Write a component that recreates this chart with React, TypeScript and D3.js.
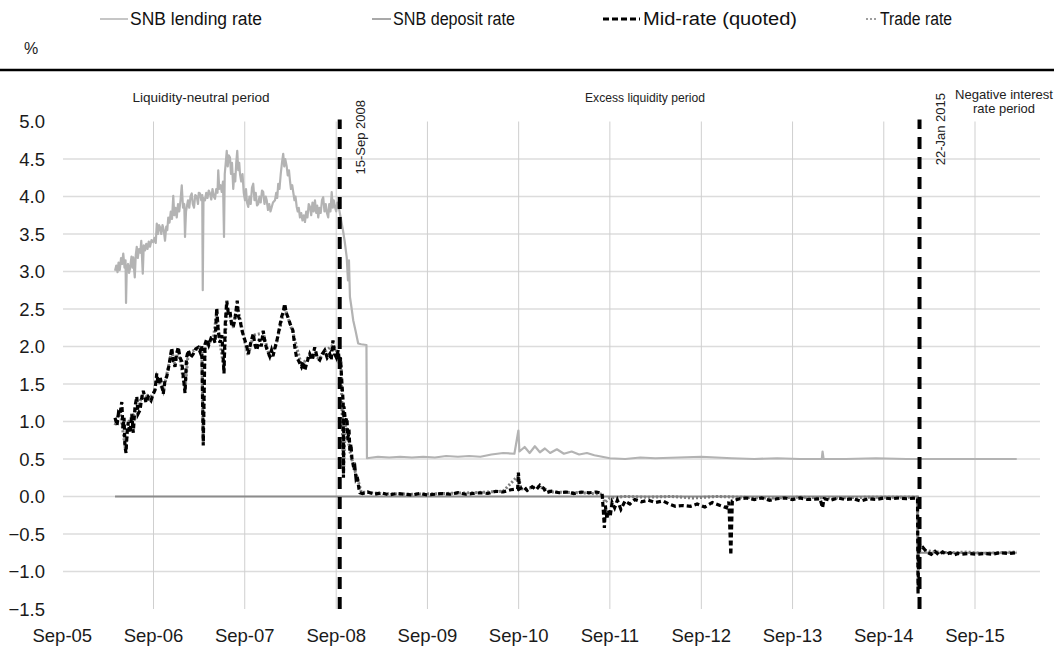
import React, { useRef, useEffect } from "react"
import * as d3 from "d3"

// y ticks and x tick years (Sep of each year)
const yTicks = [-1.5, -1.0, -0.5, 0.0, 0.5, 1.0, 1.5, 2.0, 2.5, 3.0, 3.5, 4.0, 4.5, 5.0]
const xTickYears = [2005, 2006, 2007, 2008, 2009, 2010, 2011, 2012, 2013, 2014, 2015]

const legendItems = ["SNB lending rate", "SNB deposit rate", "Mid-rate (quoted)", "Trade rate"]
const periodLabels = ["Liquidity-neutral period", "Excess liquidity period"]
const eventDates = ["2008-09-15", "2015-01-22"]
const eventLabels = ["15-Sep 2008", "22-Jan 2015"]

const lendingRate: [string, number][] = [
  ["2006-03-31", 3.01], ["2006-04-05", 3.08], ["2006-04-10", 2.99], ["2006-04-14", 3.12], ["2006-04-19", 3.02],
  ["2006-04-24", 3.18], ["2006-04-28", 3.1], ["2006-05-03", 3.24], ["2006-05-08", 3.05], ["2006-05-12", 3.15],
  ["2006-05-14", 2.58], ["2006-05-17", 3.05], ["2006-05-22", 3.1], ["2006-05-26", 2.98], ["2006-05-30", 3.04],
  ["2006-06-05", 3.2], ["2006-06-09", 3.05], ["2006-06-12", 3.19], ["2006-06-16", 3.0], ["2006-06-18", 2.92],
  ["2006-06-22", 3.22], ["2006-06-26", 3.33], ["2006-06-30", 3.18], ["2006-07-05", 3.3], ["2006-07-10", 3.25],
  ["2006-07-14", 3.41], ["2006-07-20", 2.97], ["2006-07-24", 3.35], ["2006-07-29", 3.28], ["2006-08-03", 3.37],
  ["2006-08-08", 3.3], ["2006-08-13", 3.4], ["2006-08-18", 3.33], ["2006-08-24", 3.42], ["2006-08-31", 3.39],
  ["2006-09-05", 3.45], ["2006-09-10", 3.38], ["2006-09-14", 3.64], ["2006-09-19", 3.5], ["2006-09-23", 3.62],
  ["2006-09-27", 3.59], ["2006-10-02", 3.5], ["2006-10-07", 3.62], ["2006-10-12", 3.55], ["2006-10-17", 3.41],
  ["2006-10-22", 3.6], ["2006-10-26", 3.55], ["2006-10-30", 3.72], ["2006-11-04", 3.65], ["2006-11-09", 3.8],
  ["2006-11-14", 3.7], ["2006-11-19", 4.01], ["2006-11-23", 3.75], ["2006-11-28", 3.85], ["2006-12-03", 3.72],
  ["2006-12-08", 3.9], ["2006-12-13", 3.8], ["2006-12-18", 3.95], ["2006-12-23", 4.15], ["2006-12-28", 3.85],
  ["2007-01-02", 3.9], ["2007-01-05", 3.46], ["2007-01-09", 3.8], ["2007-01-12", 3.86], ["2007-01-17", 3.95],
  ["2007-01-22", 3.85], ["2007-01-27", 4.0], ["2007-02-01", 4.04], ["2007-02-05", 3.9], ["2007-02-10", 3.85],
  ["2007-02-15", 4.02], ["2007-02-21", 4.0], ["2007-02-26", 3.9], ["2007-03-01", 4.05], ["2007-03-06", 4.04],
  ["2007-03-11", 3.95], ["2007-03-15", 4.02], ["2007-03-17", 2.75], ["2007-03-20", 3.98], ["2007-03-26", 3.95],
  ["2007-03-31", 4.05], ["2007-04-05", 3.98], ["2007-04-10", 4.08], ["2007-04-15", 4.04], ["2007-04-20", 3.96],
  ["2007-04-25", 4.1], ["2007-04-30", 4.0], ["2007-05-05", 3.97], ["2007-05-10", 4.1], ["2007-05-15", 4.05],
  ["2007-05-18", 4.35], ["2007-05-22", 4.1], ["2007-05-27", 4.15], ["2007-06-01", 4.06], ["2007-06-06", 4.2],
  ["2007-06-10", 3.46], ["2007-06-13", 4.3], ["2007-06-17", 4.45], ["2007-06-21", 4.61], ["2007-06-25", 4.4],
  ["2007-06-29", 4.55], ["2007-07-04", 4.52], ["2007-07-08", 4.3], ["2007-07-12", 4.45], ["2007-07-17", 4.1],
  ["2007-07-21", 4.3], ["2007-07-25", 4.2], ["2007-07-29", 4.45], ["2007-08-02", 4.61], ["2007-08-06", 4.35],
  ["2007-08-10", 4.45], ["2007-08-13", 4.3], ["2007-08-18", 4.2], ["2007-08-23", 4.3], ["2007-08-28", 4.05],
  ["2007-09-02", 3.95], ["2007-09-06", 4.1], ["2007-09-10", 3.92], ["2007-09-15", 3.86], ["2007-09-20", 4.0],
  ["2007-09-25", 3.9], ["2007-09-30", 4.12], ["2007-10-05", 4.17], ["2007-10-10", 3.95], ["2007-10-15", 4.05],
  ["2007-10-20", 3.88], ["2007-10-25", 3.9], ["2007-10-30", 4.0], ["2007-11-04", 3.92], ["2007-11-09", 4.08],
  ["2007-11-14", 4.06], ["2007-11-19", 3.9], ["2007-11-24", 4.0], ["2007-11-28", 3.95], ["2007-12-03", 3.82],
  ["2007-12-08", 3.9], ["2007-12-13", 3.8], ["2007-12-18", 3.86], ["2007-12-23", 3.92], ["2007-12-31", 3.95],
  ["2008-01-05", 4.05], ["2008-01-09", 3.98], ["2008-01-13", 4.17], ["2008-01-18", 4.1], ["2008-01-23", 4.3],
  ["2008-01-28", 4.45], ["2008-02-02", 4.57], ["2008-02-06", 4.4], ["2008-02-10", 4.5], ["2008-02-16", 4.4],
  ["2008-02-20", 4.28], ["2008-02-25", 4.35], ["2008-02-29", 4.21], ["2008-03-04", 4.1], ["2008-03-09", 4.15],
  ["2008-03-13", 4.06], ["2008-03-18", 3.95], ["2008-03-22", 4.0], ["2008-03-27", 3.86], ["2008-03-31", 3.8],
  ["2008-04-04", 3.85], ["2008-04-09", 3.72], ["2008-04-14", 3.78], ["2008-04-19", 3.68], ["2008-04-24", 3.75],
  ["2008-04-29", 3.66], ["2008-05-04", 3.8], ["2008-05-09", 3.72], ["2008-05-14", 3.9], ["2008-05-19", 3.86],
  ["2008-05-24", 3.75], ["2008-05-29", 3.92], ["2008-06-03", 3.8], ["2008-06-08", 3.95], ["2008-06-13", 3.78],
  ["2008-06-17", 3.88], ["2008-06-21", 3.72], ["2008-06-26", 3.85], ["2008-07-01", 3.78], ["2008-07-06", 3.95],
  ["2008-07-11", 3.99], ["2008-07-16", 3.8], ["2008-07-21", 3.9], ["2008-07-26", 3.78], ["2008-07-31", 3.72],
  ["2008-08-04", 3.9], ["2008-08-09", 3.8], ["2008-08-14", 4.06], ["2008-08-18", 3.85], ["2008-08-22", 3.95],
  ["2008-08-27", 3.86], ["2008-09-01", 3.8], ["2008-09-05", 3.92], ["2008-09-09", 3.9], ["2008-09-16", 3.77],
  ["2008-09-28", 3.55], ["2008-10-05", 3.4], ["2008-10-13", 3.19], ["2008-10-18", 2.88], ["2008-10-22", 3.15],
  ["2008-10-26", 2.66], ["2008-11-02", 2.5], ["2008-11-08", 2.35], ["2008-11-18", 2.2], ["2008-11-28", 2.04],
  ["2008-12-10", 2.03], ["2008-12-31", 2.02], ["2009-01-02", 0.51], ["2009-02-15", 0.53], ["2009-04-01", 0.52],
  ["2009-05-15", 0.53], ["2009-07-01", 0.52], ["2009-08-15", 0.53], ["2009-10-01", 0.52], ["2009-11-15", 0.54],
  ["2010-01-01", 0.53], ["2010-02-15", 0.54], ["2010-04-01", 0.53], ["2010-05-15", 0.56], ["2010-07-01", 0.58],
  ["2010-08-15", 0.57], ["2010-08-31", 0.88], ["2010-09-04", 0.6], ["2010-09-25", 0.66], ["2010-10-15", 0.58],
  ["2010-11-05", 0.67], ["2010-11-25", 0.59], ["2010-12-15", 0.64], ["2011-01-05", 0.58], ["2011-02-01", 0.63],
  ["2011-03-01", 0.57], ["2011-04-01", 0.6], ["2011-05-01", 0.56], ["2011-06-01", 0.58], ["2011-07-01", 0.55],
  ["2011-08-01", 0.53], ["2011-09-01", 0.51], ["2011-11-01", 0.5], ["2012-01-01", 0.52], ["2012-03-01", 0.51],
  ["2012-06-01", 0.52], ["2012-09-01", 0.53], ["2012-11-01", 0.52], ["2013-01-01", 0.51], ["2013-04-01", 0.5],
  ["2013-07-01", 0.51], ["2013-10-01", 0.5], ["2013-12-27", 0.5], ["2013-12-30", 0.6], ["2014-01-03", 0.5],
  ["2014-04-01", 0.5], ["2014-08-01", 0.51], ["2014-12-01", 0.5], ["2015-03-01", 0.5], ["2015-08-01", 0.5],
  ["2016-02-15", 0.5],
]

const depositRate: [string, number][] = [
  ["2006-03-31", 0.0], ["2015-01-14", 0.0], ["2015-01-15", -0.75], ["2016-02-15", -0.75],
]

const midRate: [string, number][] = [
  ["2006-03-31", 1.05], ["2006-04-08", 0.95], ["2006-04-14", 1.12], ["2006-04-20", 1.1], ["2006-04-27", 1.26],
  ["2006-05-02", 0.9], ["2006-05-06", 1.05], ["2006-05-10", 0.66], ["2006-05-14", 0.58], ["2006-05-19", 0.9],
  ["2006-05-23", 0.99], ["2006-05-30", 0.85], ["2006-06-06", 1.1], ["2006-06-12", 0.85], ["2006-06-19", 1.2],
  ["2006-06-26", 1.33], ["2006-07-01", 1.1], ["2006-07-09", 1.15], ["2006-07-15", 1.3], ["2006-07-22", 1.41],
  ["2006-08-02", 1.25], ["2006-08-11", 1.33], ["2006-08-22", 1.28], ["2006-08-31", 1.37], ["2006-09-07", 1.42],
  ["2006-09-14", 1.64], ["2006-09-20", 1.5], ["2006-09-27", 1.6], ["2006-10-03", 1.5], ["2006-10-10", 1.37],
  ["2006-10-17", 1.55], ["2006-10-24", 1.6], ["2006-11-02", 1.75], ["2006-11-13", 1.98], ["2006-11-19", 1.8],
  ["2006-11-26", 1.73], ["2006-12-02", 1.9], ["2006-12-09", 1.99], ["2006-12-16", 1.85], ["2006-12-23", 1.8],
  ["2007-01-05", 1.38], ["2007-01-11", 1.85], ["2007-01-18", 1.95], ["2007-01-27", 1.85], ["2007-02-07", 1.9],
  ["2007-02-17", 1.97], ["2007-02-27", 1.99], ["2007-03-06", 1.93], ["2007-03-13", 2.01], ["2007-03-19", 0.68],
  ["2007-03-26", 2.03], ["2007-04-02", 2.1], ["2007-04-10", 2.02], ["2007-04-20", 2.12], ["2007-04-28", 2.13],
  ["2007-05-05", 2.05], ["2007-05-12", 2.51], ["2007-05-18", 2.2], ["2007-05-25", 2.05], ["2007-06-02", 2.15],
  ["2007-06-10", 1.64], ["2007-06-15", 2.3], ["2007-06-21", 2.61], ["2007-06-27", 2.45], ["2007-07-04", 2.47],
  ["2007-07-10", 2.3], ["2007-07-17", 2.26], ["2007-07-25", 2.4], ["2007-08-02", 2.61], ["2007-08-07", 2.4],
  ["2007-08-13", 2.35], ["2007-08-22", 2.2], ["2007-09-02", 2.08], ["2007-09-09", 2.0], ["2007-09-15", 1.9],
  ["2007-09-25", 2.05], ["2007-10-05", 2.17], ["2007-10-12", 2.02], ["2007-10-19", 1.95], ["2007-10-30", 2.1],
  ["2007-11-06", 2.0], ["2007-11-14", 2.21], ["2007-11-21", 2.05], ["2007-11-28", 1.97], ["2007-12-04", 1.92],
  ["2007-12-10", 1.87], ["2007-12-17", 1.95], ["2007-12-23", 1.87], ["2007-12-30", 1.97], ["2008-01-06", 2.05],
  ["2008-01-15", 2.2], ["2008-01-26", 2.39], ["2008-02-01", 2.45], ["2008-02-08", 2.57], ["2008-02-14", 2.45],
  ["2008-02-21", 2.39], ["2008-03-01", 2.3], ["2008-03-12", 2.21], ["2008-03-19", 2.0], ["2008-03-26", 1.86],
  ["2008-04-05", 1.8], ["2008-04-15", 1.73], ["2008-04-22", 1.8], ["2008-04-28", 1.68], ["2008-05-08", 1.8],
  ["2008-05-18", 1.9], ["2008-05-28", 1.82], ["2008-06-07", 1.99], ["2008-06-17", 1.85], ["2008-06-27", 1.82],
  ["2008-07-07", 1.9], ["2008-07-17", 1.95], ["2008-07-27", 1.85], ["2008-08-06", 1.9], ["2008-08-12", 1.82],
  ["2008-08-19", 2.08], ["2008-08-26", 1.9], ["2008-09-02", 1.85], ["2008-09-09", 1.95], ["2008-09-15", 1.75],
  ["2008-09-18", 1.85], ["2008-09-24", 1.5], ["2008-09-29", 1.25], ["2008-09-30", 0.25], ["2008-10-02", 1.2],
  ["2008-10-08", 1.0], ["2008-10-14", 1.05], ["2008-10-18", 0.75], ["2008-10-22", 0.9], ["2008-10-26", 0.6],
  ["2008-10-30", 0.7], ["2008-11-03", 0.5], ["2008-11-07", 0.45], ["2008-11-11", 0.35], ["2008-11-15", 0.38],
  ["2008-11-19", 0.25], ["2008-11-23", 0.28], ["2008-11-27", 0.2], ["2008-12-01", 0.1], ["2008-12-05", 0.05],
  ["2008-12-15", 0.04], ["2009-01-05", 0.06], ["2009-02-01", 0.03], ["2009-03-01", 0.05], ["2009-04-01", 0.02],
  ["2009-05-01", 0.04], ["2009-06-01", 0.03], ["2009-07-01", 0.02], ["2009-08-01", 0.04], ["2009-09-01", 0.02],
  ["2009-10-01", 0.03], ["2009-11-01", 0.04], ["2009-12-01", 0.03], ["2010-01-01", 0.05], ["2010-02-01", 0.03],
  ["2010-03-01", 0.04], ["2010-04-01", 0.05], ["2010-05-01", 0.04], ["2010-06-01", 0.07], ["2010-07-01", 0.06],
  ["2010-08-01", 0.09], ["2010-08-28", 0.1], ["2010-08-31", 0.32], ["2010-09-04", 0.1], ["2010-09-20", 0.13],
  ["2010-10-05", 0.08], ["2010-10-25", 0.13], ["2010-11-10", 0.09], ["2010-11-25", 0.15], ["2010-12-10", 0.11],
  ["2010-12-20", 0.05], ["2011-01-10", 0.07], ["2011-02-10", 0.05], ["2011-03-10", 0.06], ["2011-04-10", 0.04],
  ["2011-05-10", 0.06], ["2011-06-10", 0.05], ["2011-07-10", 0.06], ["2011-08-01", 0.04], ["2011-08-06", -0.2],
  ["2011-08-10", -0.42], ["2011-08-14", -0.12], ["2011-08-20", -0.3], ["2011-08-26", -0.18], ["2011-09-02", -0.27],
  ["2011-09-10", -0.08], ["2011-09-20", -0.15], ["2011-10-01", -0.05], ["2011-10-15", -0.17], ["2011-11-01", -0.06],
  ["2011-11-20", -0.1], ["2011-12-10", -0.04], ["2012-01-05", -0.07], ["2012-02-01", -0.05], ["2012-03-01", -0.08],
  ["2012-04-01", -0.06], ["2012-04-25", -0.1], ["2012-05-20", -0.13], ["2012-06-20", -0.12], ["2012-07-20", -0.13],
  ["2012-08-15", -0.1], ["2012-09-15", -0.14], ["2012-10-15", -0.08], ["2012-11-15", -0.12], ["2012-12-10", -0.15],
  ["2012-12-20", -0.07], ["2012-12-28", -0.78], ["2013-01-03", -0.06], ["2013-02-01", -0.03], ["2013-03-01", -0.02],
  ["2013-04-01", -0.04], ["2013-05-01", -0.02], ["2013-06-01", -0.05], ["2013-07-01", -0.03], ["2013-08-01", -0.02],
  ["2013-09-01", -0.04], ["2013-10-01", -0.02], ["2013-11-01", -0.04], ["2013-12-20", -0.03], ["2013-12-30", -0.15],
  ["2014-01-05", -0.03], ["2014-02-01", -0.05], ["2014-03-01", -0.02], ["2014-04-01", -0.04], ["2014-05-01", -0.03],
  ["2014-06-01", -0.06], ["2014-07-01", -0.03], ["2014-08-01", -0.04], ["2014-09-01", -0.02], ["2014-10-01", -0.03],
  ["2014-11-01", -0.02], ["2014-12-01", -0.03], ["2015-01-14", -0.02], ["2015-01-16", -1.3], ["2015-01-19", -0.66],
  ["2015-01-23", -0.72], ["2015-02-05", -0.68], ["2015-02-20", -0.74], ["2015-03-10", -0.77], ["2015-03-25", -0.73],
  ["2015-04-10", -0.78], ["2015-04-25", -0.74], ["2015-05-10", -0.77], ["2015-05-25", -0.75], ["2015-06-10", -0.78],
  ["2015-06-25", -0.76], ["2015-07-10", -0.77], ["2015-08-10", -0.76], ["2015-09-10", -0.77], ["2015-10-10", -0.76],
  ["2015-11-10", -0.77], ["2015-12-10", -0.75], ["2016-01-10", -0.76], ["2016-02-15", -0.75],
]

const tradeRate: [string, number][] = [
  ["2006-03-31", 0.95], ["2006-04-20", 1.15], ["2006-05-12", 0.62], ["2006-05-25", 1.0], ["2006-06-15", 1.1],
  ["2006-07-01", 1.2], ["2006-07-22", 1.38], ["2006-08-15", 1.3], ["2006-09-05", 1.4], ["2006-09-14", 1.6],
  ["2006-10-10", 1.4], ["2006-11-13", 1.95], ["2006-11-26", 1.75], ["2006-12-09", 1.97], ["2007-01-05", 1.42],
  ["2007-01-18", 1.92], ["2007-02-15", 1.95], ["2007-03-13", 2.0], ["2007-03-19", 0.72], ["2007-03-26", 2.0],
  ["2007-04-28", 2.1], ["2007-05-12", 2.45], ["2007-05-25", 2.05], ["2007-06-10", 1.7], ["2007-06-21", 2.55],
  ["2007-07-17", 2.25], ["2007-08-02", 2.55], ["2007-09-02", 2.05], ["2007-09-15", 1.88], ["2007-10-05", 2.15],
  ["2007-11-14", 2.18], ["2007-12-10", 1.85], ["2008-01-06", 2.05], ["2008-02-08", 2.52], ["2008-03-12", 2.18],
  ["2008-04-15", 1.75], ["2008-05-18", 1.88], ["2008-06-27", 1.84], ["2008-07-17", 1.93], ["2008-08-19", 2.02],
  ["2008-09-09", 1.9], ["2008-09-20", 1.8], ["2008-09-30", 0.3], ["2008-10-08", 1.0], ["2008-10-26", 0.6],
  ["2008-11-11", 0.38], ["2008-11-27", 0.22], ["2008-12-10", 0.06], ["2009-03-01", 0.04], ["2009-07-01", 0.03],
  ["2009-11-01", 0.04], ["2010-03-01", 0.05], ["2010-07-01", 0.07], ["2010-08-31", 0.28], ["2010-09-10", 0.1],
  ["2010-11-25", 0.13], ["2011-01-10", 0.06], ["2011-05-10", 0.05], ["2011-08-01", 0.03], ["2011-08-12", -0.08],
  ["2011-09-01", -0.02], ["2011-11-01", 0.0], ["2012-02-01", -0.01], ["2012-05-01", 0.0], ["2012-08-01", -0.02],
  ["2012-11-01", 0.0], ["2013-02-01", -0.01], ["2013-06-01", -0.02], ["2013-10-01", -0.01], ["2014-02-01", -0.02],
  ["2014-07-01", -0.01], ["2015-01-14", -0.01], ["2015-01-16", -0.9], ["2015-01-20", -0.64], ["2015-02-15", -0.72],
  ["2015-04-01", -0.74], ["2015-06-01", -0.75], ["2015-08-01", -0.74], ["2015-10-01", -0.76], ["2015-12-01", -0.75],
  ["2016-02-15", -0.74],
]

const FONT = "'Liberation Sans', Arial, sans-serif"

export default function App() {
  const svgRef = useRef<SVGSVGElement>(null)

  useEffect(() => {
    const svg = d3.select(svgRef.current)
    svg.selectAll("*").remove()

    const parse = d3.timeParse("%Y-%m-%d")
    const x = d3.scaleTime()
      .domain([new Date(2005, 8, 1), new Date(2015, 8, 1)])
      .range([62.3, 975])
    const y = d3.scaleLinear().domain([-1.5, 5]).range([609, 121.5])
    const plotLeft = 63, plotRight = 1040

    svg.append("rect").attr("width", 1054).attr("height", 646).attr("fill", "#fff")

    // header: legend, % and thick rule
    const legendX = [
      { line: [100, 128], text: 130, w: 132 },
      { line: [372, 391], text: 393, w: 122 },
      { line: [603, 640], text: 643, w: 154 },
      { line: [866, 878], text: 880, w: 72 },
    ]
    const legendStyles = [
      { color: "#b3b3b3", width: 1.5, dash: null },
      { color: "#8c8c8c", width: 1.5, dash: null },
      { color: "#000", width: 3, dash: "6,3" },
      { color: "#7f7f7f", width: 1.5, dash: "2,2" },
    ]
    legendItems.forEach((name, i) => {
      const l = legendX[i], s = legendStyles[i]
      svg.append("line")
        .attr("x1", l.line[0]).attr("x2", l.line[1])
        .attr("y1", 19).attr("y2", 19)
        .attr("stroke", s.color).attr("stroke-width", s.width)
        .attr("stroke-dasharray", s.dash)
      svg.append("text")
        .attr("x", l.text).attr("y", 25)
        .attr("font-family", FONT).attr("font-size", 18)
        .attr("textLength", l.w).attr("lengthAdjust", "spacingAndGlyphs")
        .attr("fill", "#111")
        .text(name)
    })

    svg.append("text").attr("x", 24).attr("y", 54)
      .attr("font-family", FONT).attr("font-size", 16).attr("fill", "#222").text("%")

    svg.append("line").attr("x1", 0).attr("x2", 1054).attr("y1", 70).attr("y2", 70)
      .attr("stroke", "#000").attr("stroke-width", 2.5)

    // gridlines
    svg.append("g").selectAll("line")
      .data(yTicks.filter(v => v > -1.5 && v < 5))
      .enter().append("line")
      .attr("x1", plotLeft).attr("x2", plotRight)
      .attr("y1", d => y(d)).attr("y2", d => y(d))
      .attr("stroke", "#dcdcdc").attr("stroke-width", 1.5)

    svg.append("g").selectAll("line")
      .data(xTickYears.slice(1))
      .enter().append("line")
      .attr("x1", d => x(new Date(d, 8, 1))).attr("x2", d => x(new Date(d, 8, 1)))
      .attr("y1", y(5)).attr("y2", y(-1.5))
      .attr("stroke", "#cfcfcf").attr("stroke-width", 1)

    // tick labels
    svg.append("g").selectAll("text")
      .data(yTicks)
      .enter().append("text")
      .attr("x", 45).attr("y", d => y(d) + 6.5)
      .attr("text-anchor", "end")
      .attr("font-family", FONT).attr("font-size", 18.5).attr("fill", "#1a1a1a")
      .text(d => d3.format(".1f")(d))

    svg.append("g").selectAll("text")
      .data(xTickYears)
      .enter().append("text")
      .attr("x", d => x(new Date(d, 8, 1))).attr("y", 642)
      .attr("text-anchor", "middle")
      .attr("font-family", FONT).attr("font-size", 18.5).attr("fill", "#1a1a1a")
      .text(d => "Sep-" + String(d).slice(2))

    // series
    const line = d3.line<[string, number]>()
      .x(d => x(parse(d[0]) as Date))
      .y(d => y(d[1]))

    svg.append("path").datum(depositRate).attr("d", line)
      .attr("fill", "none").attr("stroke", "#8c8c8c").attr("stroke-width", 2)
    svg.append("path").datum(lendingRate).attr("d", line)
      .attr("fill", "none").attr("stroke", "#b3b3b3").attr("stroke-width", 2.2)
      .attr("stroke-linejoin", "round")
    svg.append("path").datum(tradeRate).attr("d", line)
      .attr("fill", "none").attr("stroke", "#7f7f7f").attr("stroke-width", 3)
      .attr("stroke-dasharray", "2,2")
    svg.append("path").datum(midRate).attr("d", line)
      .attr("fill", "none").attr("stroke", "#000").attr("stroke-width", 3.2)
      .attr("stroke-dasharray", "5,3")

    // event lines and labels
    eventDates.forEach((ds, i) => {
      const ex = x(parse(ds) as Date)
      svg.append("line")
        .attr("x1", ex).attr("x2", ex).attr("y1", y(-1.5)).attr("y2", y(5) - 2)
        .attr("stroke", "#000").attr("stroke-width", 4)
        .attr("stroke-dasharray", "12,8")
      const ty = i === 0 ? 100 : 93
      svg.append("text")
        .attr("transform", `translate(${ex + 25},${ty}) rotate(-90)`)
        .attr("text-anchor", "end")
        .attr("font-family", FONT).attr("font-size", 13).attr("fill", "#222")
        .text(eventLabels[i])
    })

    // period labels
    svg.append("text").attr("x", 201).attr("y", 102).attr("text-anchor", "middle")
      .attr("font-family", FONT).attr("font-size", 13).attr("fill", "#222")
      .attr("textLength", 137).attr("lengthAdjust", "spacingAndGlyphs")
      .text(periodLabels[0])
    svg.append("text").attr("x", 645).attr("y", 102).attr("text-anchor", "middle")
      .attr("font-family", FONT).attr("font-size", 13).attr("fill", "#222")
      .attr("textLength", 120).attr("lengthAdjust", "spacingAndGlyphs")
      .text(periodLabels[1])
    const neg = svg.append("text").attr("text-anchor", "middle")
      .attr("font-family", FONT).attr("font-size", 13).attr("fill", "#222")
    neg.append("tspan").attr("x", 1004).attr("y", 99).attr("textLength", 98)
      .attr("lengthAdjust", "spacingAndGlyphs").text("Negative interest")
    neg.append("tspan").attr("x", 1004).attr("y", 113).attr("textLength", 62)
      .attr("lengthAdjust", "spacingAndGlyphs").text("rate period")
  }, [])

  return (
    <svg ref={svgRef} width={1054} height={646}
      style={{ position: "absolute", left: 0, top: 0 }} />
  )
}
